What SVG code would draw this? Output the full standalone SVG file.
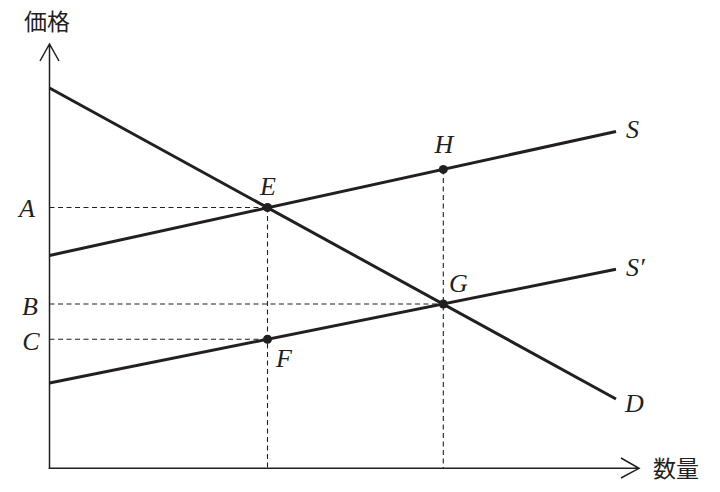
<svg xmlns="http://www.w3.org/2000/svg" width="720" height="492" viewBox="0 0 720 492">
<style>
.axis{stroke:#231f20;stroke-width:1.5;fill:none}
.dash{stroke:#231f20;stroke-width:1.1;stroke-dasharray:5 3.5;fill:none}
.curve{stroke:#231f20;stroke-width:3;fill:none;stroke-linecap:butt}
.pt{fill:#231f20}
.lbl{font-family:"Liberation Serif",serif;font-style:italic;font-size:26px;fill:#231f20}
.jp{font-family:"Noto Sans CJK JP","Noto Sans CJK SC",serif;font-size:23px;fill:#231f20}
</style>
<rect width="720" height="492" fill="#ffffff"/>
<g id="axes">
<path class="axis" d="M49.5,469 V44 M40,61 L49.5,44 L59,61"/>
<path class="axis" d="M48.75,468.3 H639 M621,458 L639,468.3 L621,478"/>
<text class="jp" x="47" y="30" text-anchor="middle">価格</text>
<text class="jp" x="676" y="477" text-anchor="middle">数量</text>
</g>
<g id="connectors">
<path class="dash" d="M49.5,207.5 H267.5 M49.5,304 H443.3 M49.5,339.3 H267.5"/>
<path class="dash" d="M267.5,207.5 V468 M443.3,169.4 V468"/>
<line id="D-line" class="curve" x1="49.5" y1="88" x2="616" y2="399"/>
<line id="S-line" class="curve" x1="49.5" y1="255.5" x2="616" y2="131.5"/>
<line id="S2-line" class="curve" x1="49.5" y1="383" x2="616" y2="269.3"/>
</g>
<g id="node-E"><circle class="pt" cx="267.5" cy="207.5" r="4.5"/><text class="lbl" x="268" y="195" text-anchor="middle">E</text></g>
<g id="node-H"><circle class="pt" cx="443.3" cy="169.4" r="4.5"/><text class="lbl" x="444" y="153" text-anchor="middle">H</text></g>
<g id="node-G"><circle class="pt" cx="443.3" cy="304" r="4.5"/><text class="lbl" x="449" y="292">G</text></g>
<g id="node-F"><circle class="pt" cx="267.5" cy="339.3" r="4.5"/><text class="lbl" x="276" y="367">F</text></g>
<g id="label-A"><text class="lbl" x="27" y="217" text-anchor="middle">A</text></g>
<g id="label-B"><text class="lbl" x="30" y="315" text-anchor="middle">B</text></g>
<g id="label-C"><text class="lbl" x="31" y="350" text-anchor="middle">C</text></g>
<g id="label-S"><text class="lbl" x="626" y="138">S</text></g>
<g id="label-S2"><text class="lbl" x="626" y="276">S′</text></g>
<g id="label-D"><text class="lbl" x="625" y="412">D</text></g>
</svg>
